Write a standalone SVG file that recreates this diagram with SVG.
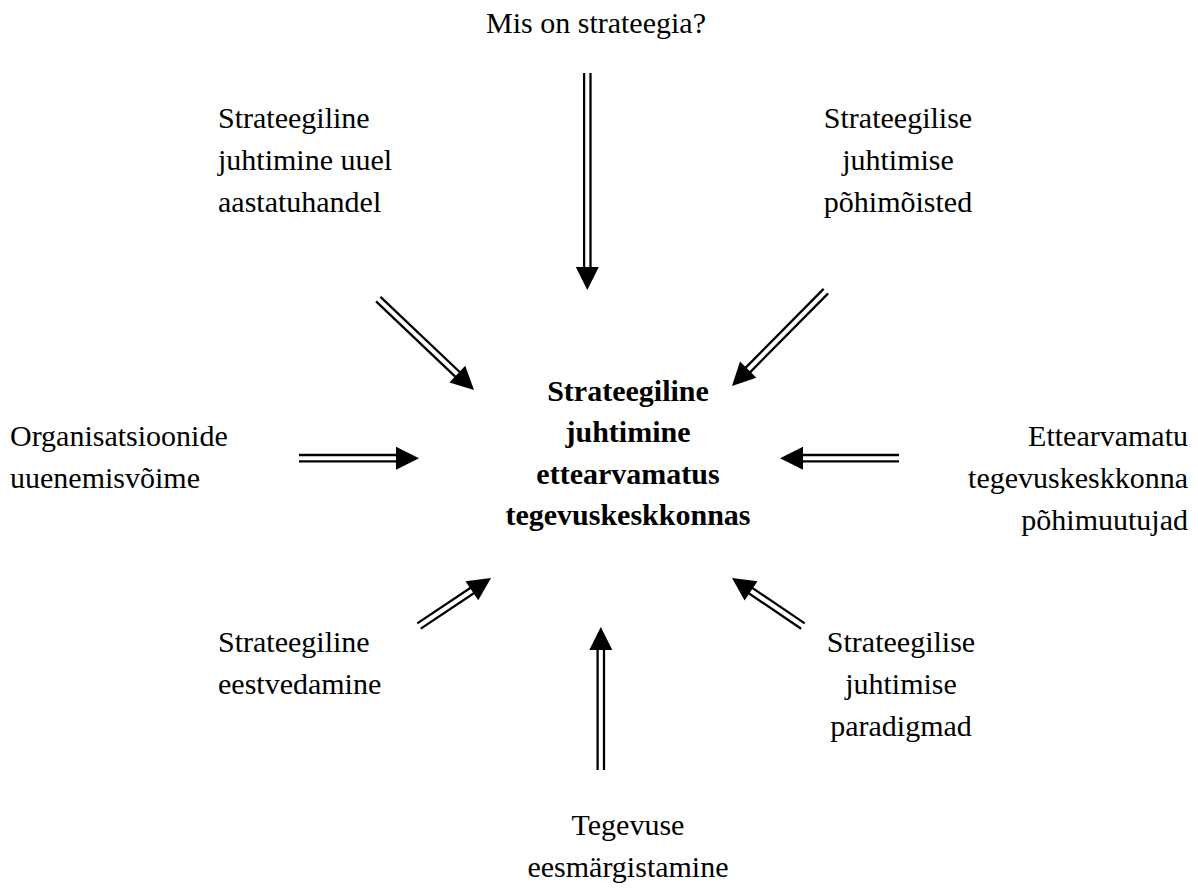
<svg xmlns="http://www.w3.org/2000/svg" width="1198" height="892" viewBox="0 0 1198 892">
  <style>
    text { font-family: "Liberation Serif", "Times New Roman", serif; font-size: 30px; fill: #000; }
    .c { text-anchor: middle; }
    .r { text-anchor: end; }
    .b { font-weight: bold; }
    .rail { stroke: #000; stroke-width: 2.3; fill: none; }
    .head { fill: #000; }
  </style>
  <defs>
    <!-- solid arrowhead, tip at origin, pointing along +x -->
    <polygon id="head" class="head" points="0,0 -23,-11.5 -23,11.5"/>
  </defs>

  <rect width="1198" height="892" fill="#fff"/>

  <!-- every arrow is drawn along +x with its tip at the origin, then placed with translate/rotate -->
  <g id="connectors">
    <g id="a-top" transform="translate(587.3,290) rotate(90)">
      <line class="rail" x1="-217" y1="-3.2" x2="-21" y2="-3.2"/>
      <line class="rail" x1="-217" y1="3.2" x2="-21" y2="3.2"/>
      <use href="#head"/>
    </g>
    <g id="a-topleft" transform="translate(474,390) rotate(43.5)">
      <line class="rail" x1="-132" y1="-3.2" x2="-21" y2="-3.2"/>
      <line class="rail" x1="-132" y1="3.2" x2="-21" y2="3.2"/>
      <use href="#head"/>
    </g>
    <g id="a-topright" transform="translate(732,386) rotate(134.7)">
      <line class="rail" x1="-133.5" y1="-3.2" x2="-21" y2="-3.2"/>
      <line class="rail" x1="-133.5" y1="3.2" x2="-21" y2="3.2"/>
      <use href="#head"/>
    </g>
    <g id="a-left" transform="translate(419,458.2)">
      <line class="rail" x1="-120" y1="-3.2" x2="-21" y2="-3.2"/>
      <line class="rail" x1="-120" y1="3.2" x2="-21" y2="3.2"/>
      <use href="#head"/>
    </g>
    <g id="a-right" transform="translate(780,458.2) rotate(180)">
      <line class="rail" x1="-119" y1="-3.2" x2="-21" y2="-3.2"/>
      <line class="rail" x1="-119" y1="3.2" x2="-21" y2="3.2"/>
      <use href="#head"/>
    </g>
    <g id="a-botleft" transform="translate(491,578) rotate(-33.7)">
      <line class="rail" x1="-86.5" y1="-3.2" x2="-21" y2="-3.2"/>
      <line class="rail" x1="-86.5" y1="3.2" x2="-21" y2="3.2"/>
      <use href="#head"/>
    </g>
    <g id="a-botright" transform="translate(732,578) rotate(-145.9)">
      <line class="rail" x1="-85.7" y1="-3.2" x2="-21" y2="-3.2"/>
      <line class="rail" x1="-85.7" y1="3.2" x2="-21" y2="3.2"/>
      <use href="#head"/>
    </g>
    <g id="a-bottom" transform="translate(600.8,627) rotate(-90)">
      <line class="rail" x1="-143" y1="-3.2" x2="-21" y2="-3.2"/>
      <line class="rail" x1="-143" y1="3.2" x2="-21" y2="3.2"/>
      <use href="#head"/>
    </g>
  </g>

  <g id="n-center">
    <text class="c b" x="628" y="401">Strateegiline</text>
    <text class="c b" x="628" y="442">juhtimine</text>
    <text class="c b" x="628" y="484">ettearvamatus</text>
    <text class="c b" x="628" y="525">tegevuskeskkonnas</text>
  </g>
  <g id="n-top">
    <text class="c" x="596" y="33">Mis on strateegia?</text>
  </g>
  <g id="n-topleft">
    <text x="218" y="128">Strateegiline</text>
    <text x="218" y="170">juhtimine uuel</text>
    <text x="218" y="212">aastatuhandel</text>
  </g>
  <g id="n-topright">
    <text class="c" x="898" y="128">Strateegilise</text>
    <text class="c" x="898" y="170">juhtimise</text>
    <text class="c" x="898" y="212">põhimõisted</text>
  </g>
  <g id="n-left">
    <text x="10" y="446">Organisatsioonide</text>
    <text x="10" y="488">uuenemisvõime</text>
  </g>
  <g id="n-right">
    <text class="r" x="1188" y="446">Ettearvamatu</text>
    <text class="r" x="1188" y="488">tegevuskeskkonna</text>
    <text class="r" x="1188" y="530">põhimuutujad</text>
  </g>
  <g id="n-botleft">
    <text x="218" y="652">Strateegiline</text>
    <text x="218" y="694">eestvedamine</text>
  </g>
  <g id="n-botright">
    <text class="c" x="901" y="652">Strateegilise</text>
    <text class="c" x="901" y="694">juhtimise</text>
    <text class="c" x="901" y="736">paradigmad</text>
  </g>
  <g id="n-bottom">
    <text class="c" x="628" y="835">Tegevuse</text>
    <text class="c" x="628" y="877">eesmärgistamine</text>
  </g>
</svg>
